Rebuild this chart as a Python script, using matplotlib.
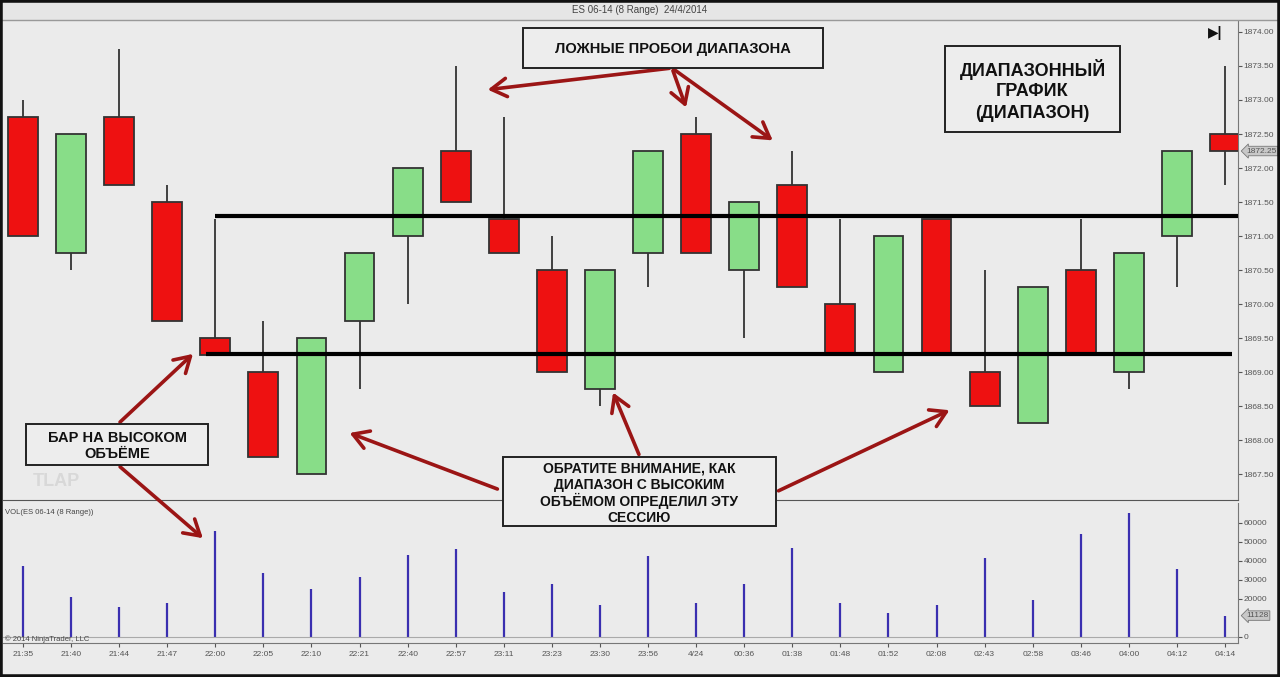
import matplotlib
matplotlib.use('Agg')
import matplotlib.pyplot as plt
from matplotlib.patches import Rectangle, FancyArrowPatch
from matplotlib.lines import Line2D

plt.rcParams['font.family'] = ['Liberation Sans', 'DejaVu Sans']

# --- data (8 range bars, ES 06-14) ---
labels = ['21:35', '21:40', '21:44', '21:47', '22:00', '22:05', '22:10', '22:21', '22:40',
          '22:57', '23:11', '23:23', '23:30', '23:56', '4/24', '00:36', '01:38', '01:48',
          '01:52', '02:08', '02:43', '02:58', '03:46', '04:00', '04:12', '04:14']
opens = [1872.75, 1870.75, 1872.75, 1871.5, 1869.5, 1869.0, 1867.5, 1869.75, 1871.0,
         1872.25, 1871.25, 1870.5, 1868.75, 1870.75, 1872.5, 1870.5, 1871.75, 1870.0,
         1869.0, 1871.25, 1869.0, 1868.25, 1870.5, 1869.0, 1871.0, 1872.5]
highs = [1873.0, 1872.5, 1873.75, 1871.75, 1871.25, 1869.75, 1869.5, 1870.75, 1872.0,
         1873.5, 1872.75, 1871.0, 1870.5, 1872.25, 1872.75, 1871.5, 1872.25, 1871.25,
         1871.0, 1871.25, 1870.5, 1870.25, 1871.25, 1870.75, 1872.25, 1873.5]
lows = [1871.0, 1870.5, 1871.75, 1869.75, 1869.25, 1867.75, 1867.5, 1868.75, 1870.0,
        1871.5, 1870.75, 1869.0, 1868.5, 1870.25, 1870.75, 1869.5, 1870.25, 1869.25,
        1869.0, 1869.25, 1868.5, 1868.25, 1869.25, 1868.75, 1870.25, 1871.75]
closes = [1871.0, 1872.5, 1871.75, 1869.75, 1869.25, 1867.75, 1869.5, 1870.75, 1872.0,
          1871.5, 1870.75, 1869.0, 1870.5, 1872.25, 1870.75, 1871.5, 1870.25, 1869.25,
          1871.0, 1869.25, 1868.5, 1870.25, 1869.25, 1870.75, 1872.25, 1872.25]
volumes = [37000, 20800, 15600, 18000, 55900, 33700, 25000, 31400, 43200, 46300,
           23700, 27900, 16600, 42300, 17500, 28000, 46800, 18000, 12600, 16600,
           41200, 19500, 54000, 65300, 35600, 11128]
range_top = 1871.3
range_bottom = 1869.27
price_ticks = [1867.5 + 0.5 * k for k in range(14)]
vol_ticks = [0, 20000, 30000, 40000, 50000, 60000]

W, H = 1280, 677
BG = '#ebebeb'
RED = '#ee1111'
GREEN = '#88dd88'
EDGE = '#333333'
ARROW = '#9b1515'


def fpos(x, y):
    return (x / W, 1 - y / H)


fig = plt.figure(figsize=(12.8, 6.77), dpi=100, facecolor=BG)

# title strip
fig.patches.append(Rectangle((0, 1 - 20 / H), 1, 20 / H, transform=fig.transFigure,
                             facecolor='#e6e6e6', edgecolor='none', zorder=0))
fig.text(640 / W, 1 - 10 / H, 'ES 06-14 (8 Range)  24/4/2014', ha='center', va='center',
         fontsize=7, color='#444444')

# price panel
xl = (-0.416, 25.27)
ax = fig.add_axes([3 / W, 1 - 500 / H, 1235 / W, 480 / H])
ax.set_facecolor(BG)
x = list(range(len(labels)))
ax.vlines(x, lows, highs, color=EDGE, lw=1.3, zorder=2)
body_bottom = [min(o, c) for o, c in zip(opens, closes)]
body_height = [abs(o - c) for o, c in zip(opens, closes)]
colors = [GREEN if c > o else RED for o, c in zip(opens, closes)]
ax.bar(x, body_height, bottom=body_bottom, width=0.62, color=colors, edgecolor=EDGE,
       lw=1.3, zorder=3)
ax.hlines(range_top, 4, xl[1], color='black', lw=3, zorder=4)
ax.hlines(range_bottom, 3.8, 25.15, color='black', lw=3, zorder=4)
ax.set_xlim(*xl)
ax.set_ylim(1867.12, 1874.176)
ax.yaxis.tick_right()
ax.set_yticks(price_ticks)
ax.set_yticklabels(['%.2f' % p for p in price_ticks])
ax.tick_params(axis='y', labelsize=6, colors='#555555', length=3, pad=1)
ax.set_xticks([])
for s in ['top', 'left']:
    ax.spines[s].set_visible(False)
ax.spines['right'].set_color('#777777')
ax.spines['bottom'].set_color('#555555')
ax.text(30 / 1235, 1 - (482 - 20) / 480, 'TLAP', transform=ax.transAxes, fontsize=13,
        fontweight='bold', color='#d8d8d8', va='center')
ax.text(1224 / 1235 - 0.01, 1 - (33 - 20) / 480, '\u25b6|', transform=ax.transAxes,
        fontsize=10, fontweight='bold', color='#111111', va='center', ha='center')
ax.annotate('%.2f' % closes[-1], xy=(1.0, closes[-1]), xycoords=('axes fraction', 'data'),
            xytext=(6, 0), textcoords='offset points', fontsize=6, color='#555555',
            va='center', bbox=dict(boxstyle='larrow,pad=0.15', fc='#c8c8c8', ec='#777777', lw=0.6))

# volume panel
axv = fig.add_axes([3 / W, 1 - 643 / H, 1235 / W, 140 / H])
axv.set_facecolor(BG)
axv.vlines(x, 0, volumes, color='#3a2fb0', lw=1.6)
axv.axhline(0, color='#aaaaaa', lw=0.8)
axv.set_xlim(*xl)
axv.set_ylim(-3300, 70400)
axv.yaxis.tick_right()
axv.set_yticks(vol_ticks)
axv.set_yticklabels([str(v) for v in vol_ticks])
axv.tick_params(axis='y', labelsize=6, colors='#555555', length=3, pad=1)
axv.set_xticks(x)
axv.set_xticklabels(labels)
axv.tick_params(axis='x', labelsize=6, colors='#555555', length=3, pad=3)
for s in ['top', 'left']:
    axv.spines[s].set_visible(False)
axv.spines['right'].set_color('#777777')
axv.spines['bottom'].set_color('#777777')
axv.text(0.002, 0.93, 'VOL(ES 06-14 (8 Range))', transform=axv.transAxes, fontsize=5.5,
         color='#444444', va='center')
axv.text(0.002, 0.03, '\u00a9 2014 NinjaTrader, LLC', transform=axv.transAxes, fontsize=5.5,
         color='#444444', va='center')
axv.annotate(str(volumes[-1]), xy=(1.0, volumes[-1]), xycoords=('axes fraction', 'data'),
             xytext=(6, 0), textcoords='offset points', fontsize=6, color='#555555',
             va='center', bbox=dict(boxstyle='larrow,pad=0.15', fc='#c8c8c8', ec='#777777', lw=0.6))


# annotation boxes, one text per line so the spacing stays even
def box(x0, y0, x1, y1, lines, line_ys, size):
    fig.patches.append(Rectangle(fpos(x0, y1), (x1 - x0) / W, (y1 - y0) / H,
                                 transform=fig.transFigure, facecolor='#ededed',
                                 edgecolor='#222222', lw=1.4, zorder=10))
    for t, ly in zip(lines, line_ys):
        fig.text(*fpos((x0 + x1) / 2, ly), t, ha='center', va='center_baseline',
                 fontsize=size, fontweight='bold', color='#111111', zorder=11)


def arrow(x0, y0, x1, y1):
    fig.add_artist(FancyArrowPatch(
        fpos(x0, y0), fpos(x1, y1), transform=fig.transFigure,
        arrowstyle='->,head_length=5,head_width=3',
        color=ARROW, lw=2.6, zorder=9, mutation_scale=2.2))


box(523, 28, 823, 68, ['ЛОЖНЫЕ ПРОБОИ ДИАПАЗОНА'], [47], 10.5)
box(945, 46, 1120, 132, ['ДИАПАЗОННЫЙ', 'ГРАФИК', '(ДИАПАЗОН)'], [68, 90, 112], 13)
box(26, 424, 208, 465, ['БАР НА ВЫСОКОМ', 'ОБЪЁМЕ'], [436, 453], 10.5)
box(503, 457, 776, 526, ['ОБРАТИТЕ ВНИМАНИЕ, КАК', 'ДИАПАЗОН С ВЫСОКИМ',
                         'ОБЪЁМОМ ОПРЕДЕЛИЛ ЭТУ', 'СЕССИЮ'], [467, 483, 499, 516], 10)

arrow(672, 68, 485, 90)
arrow(672, 68, 687, 110)
arrow(672, 68, 775, 142)
arrow(118, 424, 195, 352)
arrow(118, 465, 205, 540)
arrow(500, 490, 347, 432)
arrow(640, 457, 612, 390)
arrow(776, 492, 952, 409)

# outer frame
fig.patches.append(Rectangle((0, 0), 1, 1, transform=fig.transFigure, facecolor='none',
                             edgecolor='#111111', lw=4, zorder=20))
fig.lines.append(Line2D([0, 1], [1 - 20 / H] * 2, transform=fig.transFigure,
                        color='#999999', lw=1))

fig.savefig('out.png', dpi=100, facecolor=BG)
